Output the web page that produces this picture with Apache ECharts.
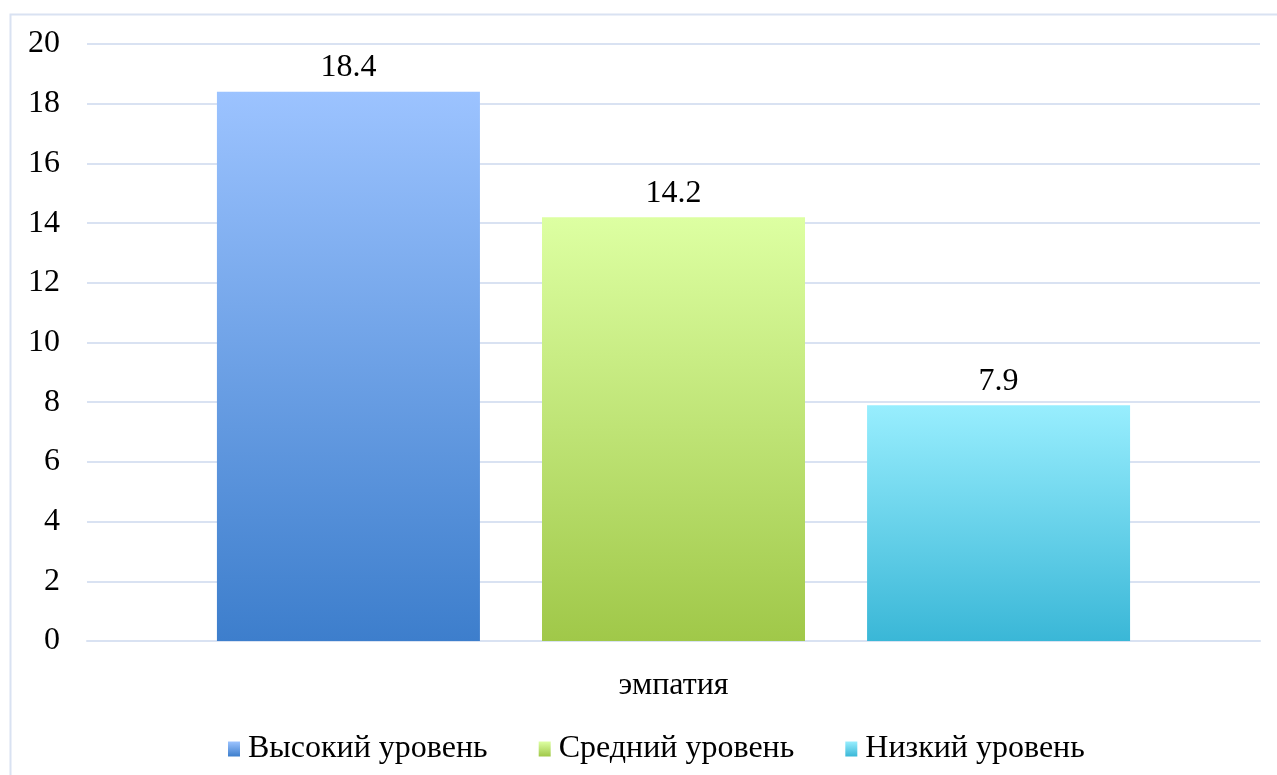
<!DOCTYPE html>
<html><head><meta charset="utf-8">
<script src="https://cdn.jsdelivr.net/npm/echarts@6/dist/echarts.min.js"></script>
<style>html,body{margin:0;padding:0;background:#fff}#c{width:1277px;height:775px}</style>
</head><body><div id="c"></div>
<script>
const categories = ['эмпатия'];
const seriesNames = ['Высокий уровень', 'Средний уровень', 'Низкий уровень'];
const highValues = [18.4];
const midValues = [14.2];
const lowValues = [7.9];
const yTicks = [0, 2, 4, 6, 8, 10, 12, 14, 16, 18, 20];

const grad = (top, bottom) => new echarts.graphic.LinearGradient(0, 0, 0, 1, [
  {offset: 0, color: top}, {offset: 1, color: bottom}]);
const colors = [
  grad('#9CC3FF', '#3D7ECC'),
  grad('#DDFFA2', '#A0C849'),
  grad('#98EEFE', '#3AB7D7')
];
const font = '"Liberation Serif", "Times New Roman", serif';
const chart = echarts.init(document.getElementById('c'));
const values = [highValues, midValues, lowValues];
chart.setOption({
  animation: false,
  textStyle: {fontFamily: font},
  graphic: [{type: 'rect', shape: {x: 10.5, y: 14.5, width: 1300, height: 800},
    style: {fill: 'none', stroke: '#D9E2F2', lineWidth: 2}}],
  grid: {left: 87, right: 17, top: 44, bottom: 134, containLabel: false},
  legend: {
    top: 728, left: 223, itemWidth: 12, itemHeight: 15, itemGap: 51,
    textStyle: {fontFamily: font, fontSize: 32, color: '#000', padding: [0, 0, 0, 3]},
    icon: 'rect',
    data: seriesNames
  },
  xAxis: {
    type: 'category', data: categories,
    axisLine: {lineStyle: {color: '#D9E2F2', width: 2}},
    axisTick: {show: false},
    axisLabel: {fontFamily: font, fontSize: 32, color: '#000', margin: 29}
  },
  yAxis: {
    type: 'value', min: yTicks[0], max: yTicks[yTicks.length - 1], interval: 2,
    axisLine: {show: false}, axisTick: {show: false},
    axisLabel: {fontFamily: font, fontSize: 32, color: '#000', margin: 27, padding: [4, 0, 0, 0]},
    splitLine: {lineStyle: {color: '#D9E2F2', width: 2}}
  },
  series: seriesNames.map((n, i) => ({
    name: n, type: 'bar', data: values[i],
    barWidth: 263, barGap: '23.6%',
    itemStyle: {color: colors[i]},
    label: {show: true, position: 'top', distance: 8, fontFamily: font, fontSize: 32, color: '#000'}
  }))
});
</script></body></html>
